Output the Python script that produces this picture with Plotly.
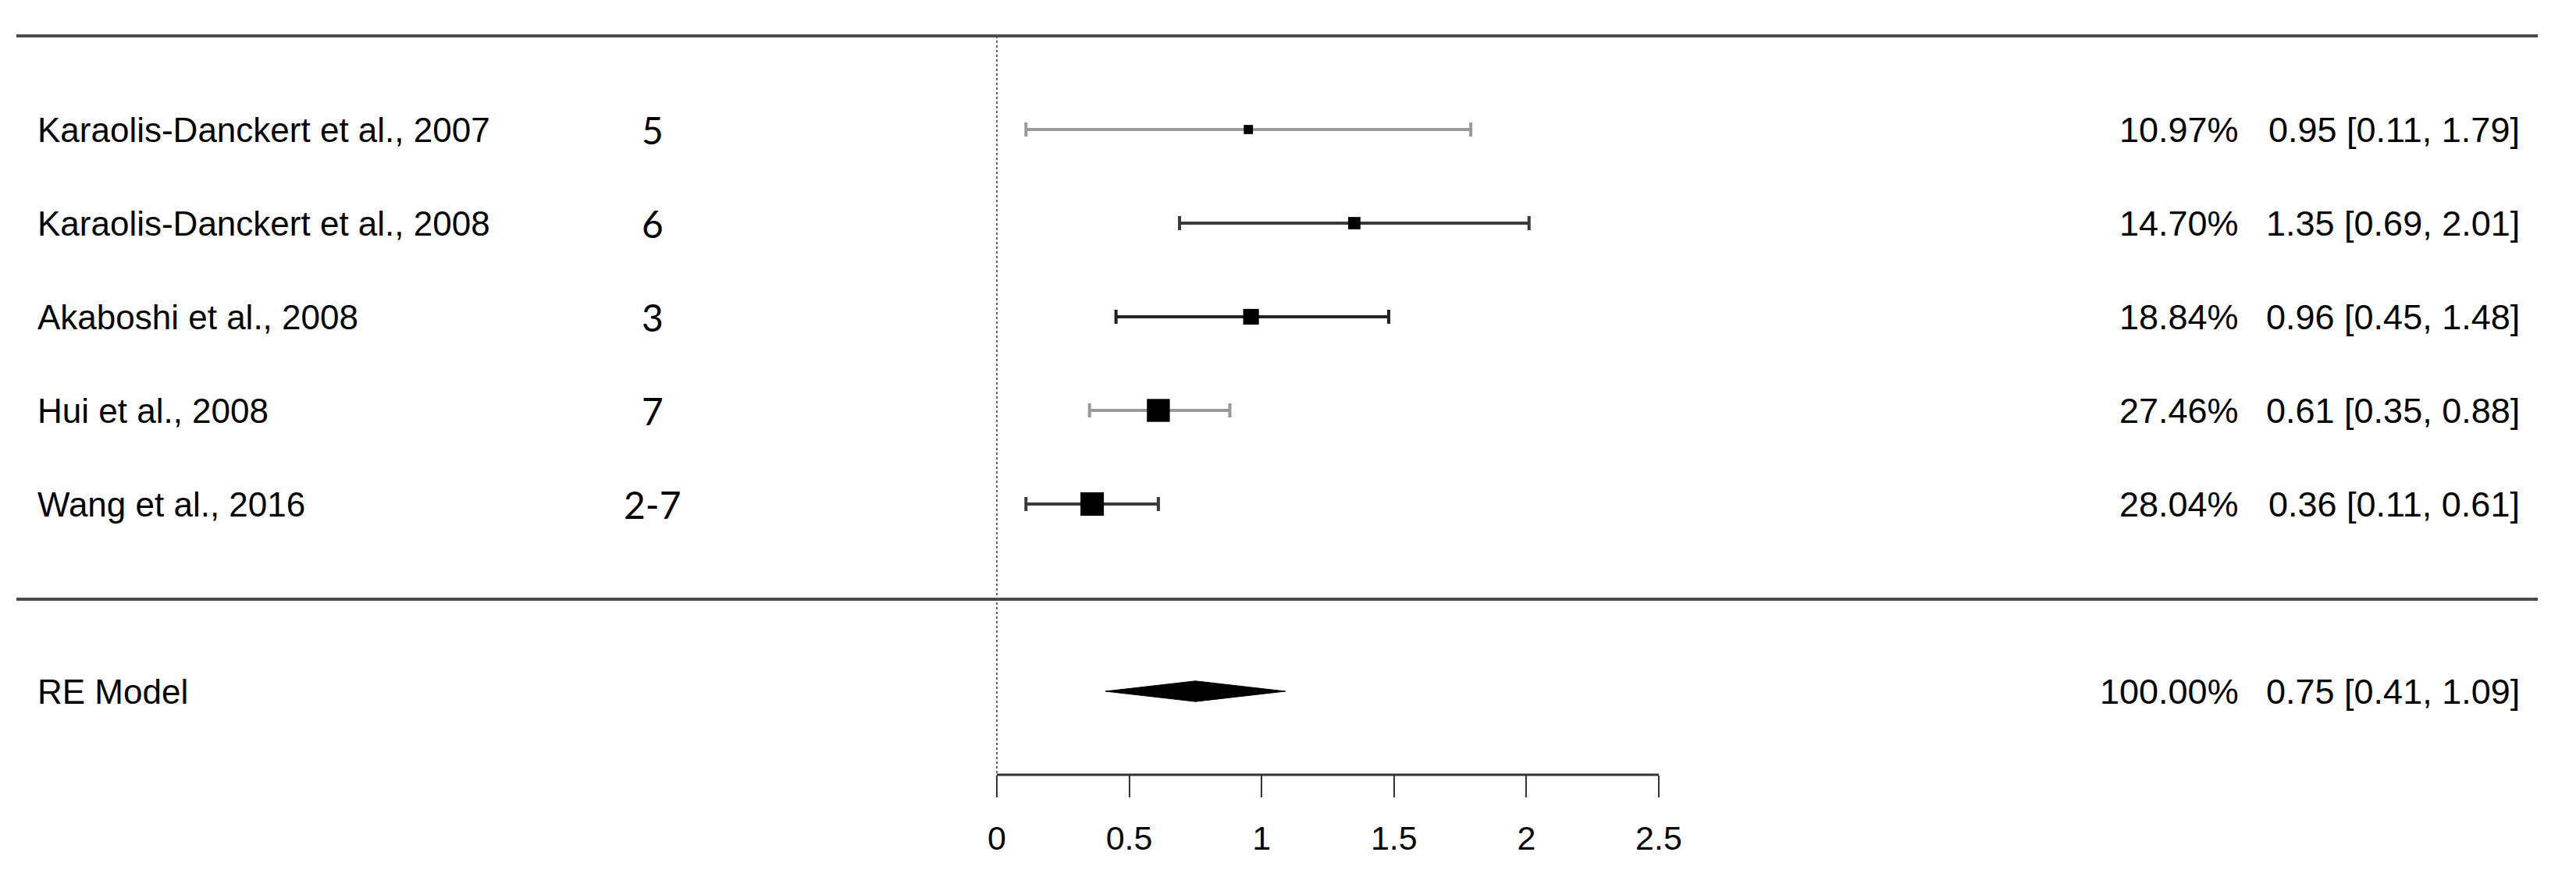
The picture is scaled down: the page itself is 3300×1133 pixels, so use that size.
import plotly.graph_objects as go

# study data
studies = [
    "Karaolis-Danckert et al., 2007",
    "Karaolis-Danckert et al., 2008",
    "Akaboshi et al., 2008",
    "Hui et al., 2008",
    "Wang et al., 2016",
]
ages = ["5", "6", "3", "7", "2-7"]
weights = [10.97, 14.70, 18.84, 27.46, 28.04]
estimates = [0.95, 1.35, 0.96, 0.61, 0.36]
ci_low = [0.11, 0.69, 0.45, 0.35, 0.11]
ci_high = [1.79, 2.01, 1.48, 0.88, 0.61]

model_label = "RE Model"
model_weight = 100.00
model_est = 0.75
model_low = 0.41
model_high = 1.09

tick_vals = [0, 0.5, 1, 1.5, 2, 2.5]
tick_text = ["0", "0.5", "1", "1.5", "2", "2.5"]

# page geometry: the browser puts an 8px margin round the plot div,
# so every target pixel is shifted back by that amount
PAD = 8
W, H = 3300 - 2 * PAD, 1133 - 2 * PAD
X0_PX, X25_PX = 1277 - PAD, 2125 - PAD   # where 0 and 2.5 sit
ROW1_PX, ROW_STEP = 166 - PAD, 120        # first row centre and row spacing
AXIS_PX = 993 - PAD

unit = 2.5 / (X25_PX - X0_PX)
x_range = [-X0_PX * unit, (W - X0_PX) * unit]


def row_of(px):
    return (px - ROW1_PX) / ROW_STEP + 1


def px_x(px):
    return (px - PAD) / W


y_range = [row_of(H), row_of(0)]
axis_row = row_of(AXIS_PX)
model_row = len(studies) + 2

FONT = "Arial, Liberation Sans, sans-serif"
bar_colors = ["#999999", "#3a3a3a", "#222222", "#999999", "#3a3a3a"]

fig = go.Figure()

# reference line at zero
fig.add_shape(type="line", xref="x", yref="y", x0=0, x1=0, y0=0, y1=axis_row,
              line=dict(color="#666666", width=2, dash="dot"))

for i, name in enumerate(studies):
    row = i + 1
    fig.add_trace(go.Scatter(
        x=[estimates[i]], y=[row], mode="markers",
        marker=dict(symbol="square", size=weights[i] * 30 / max(weights), color="black",
                    line=dict(width=0)),
        error_x=dict(type="data", symmetric=False,
                     array=[ci_high[i] - estimates[i]],
                     arrayminus=[estimates[i] - ci_low[i]],
                     color=bar_colors[i], thickness=4, width=9),
        showlegend=False, hoverinfo="skip",
    ))

# summary diamond
dh = 0.11
fig.add_trace(go.Scatter(
    x=[model_low, model_est, model_high, model_est, model_low],
    y=[model_row, model_row - dh, model_row, model_row + dh, model_row],
    mode="lines", fill="toself", fillcolor="black",
    line=dict(color="black", width=1), showlegend=False, hoverinfo="skip",
))

# horizontal rules
for r in [0, row_of(768 - PAD)]:
    fig.add_shape(type="line", xref="paper", yref="y", x0=px_x(21), x1=px_x(3251), y0=r, y1=r,
                  line=dict(color="#4a4a4a", width=4))

# axis line
fig.add_shape(type="line", xref="x", yref="y", x0=tick_vals[0], x1=tick_vals[-1],
              y0=axis_row, y1=axis_row, line=dict(color="#333333", width=3))

# text columns
labels = studies + [model_label]
rows = list(range(1, len(studies) + 1)) + [model_row]
pcts = weights + [model_weight]
ests = estimates + [model_est]
los = ci_low + [model_low]
his = ci_high + [model_high]

for lab, r, w, e, lo, hi in zip(labels, rows, pcts, ests, los, his):
    fig.add_annotation(x=px_x(46), xref="paper", y=r, yref="y", text=lab, showarrow=False,
                       xanchor="left", yanchor="middle", font=dict(family=FONT, size=44, color="black"))
    fig.add_annotation(x=px_x(2870), xref="paper", y=r, yref="y", text=f"{w:.2f}%", showarrow=False,
                       xanchor="right", yanchor="middle", font=dict(family=FONT, size=45, color="black"))
    fig.add_annotation(x=px_x(3230), xref="paper", y=r, yref="y",
                       text=f"{e:.2f} [{lo:.2f}, {hi:.2f}]", showarrow=False,
                       xanchor="right", yanchor="middle", font=dict(family=FONT, size=45, color="black"))

for i, a in enumerate(ages):
    fig.add_annotation(x=px_x(836), xref="paper", y=i + 1, yref="y", text=a, showarrow=False,
                       xanchor="center", yanchor="middle",
                       font=dict(family="Lato, Open Sans, sans-serif", size=48, color="black"))

fig.update_layout(
    width=W, height=H,
    margin=dict(l=0, r=0, t=0, b=0),
    paper_bgcolor="white", plot_bgcolor="white",
    xaxis=dict(range=x_range, domain=[0, 1], anchor="free", position=1 - AXIS_PX / H,
               tickvals=tick_vals, ticktext=tick_text, ticks="outside", ticklen=28,
               tickwidth=2, tickcolor="#333333", showline=False, showgrid=False,
               zeroline=False, ticklabelstandoff=15,
               tickfont=dict(family=FONT, size=43, color="black")),
    yaxis=dict(range=y_range, domain=[0, 1], visible=False, showgrid=False, zeroline=False),
)

fig.write_html("out.html")
